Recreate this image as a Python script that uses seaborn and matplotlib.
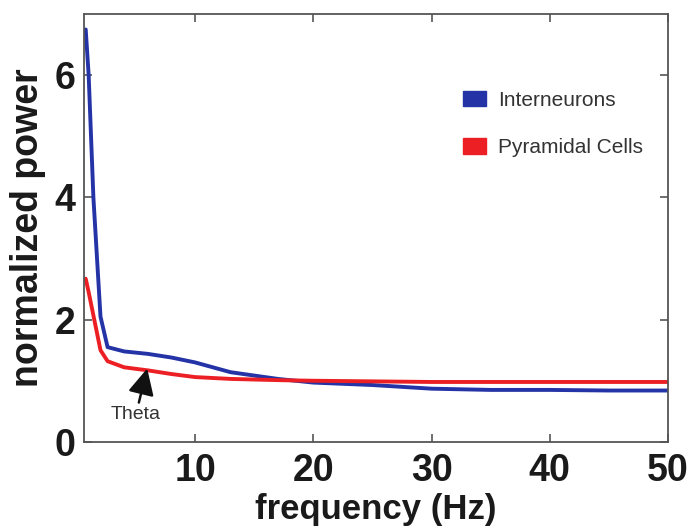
import seaborn as sns
import matplotlib.pyplot as plt
import pandas as pd
from matplotlib.patches import Patch

# frequency axis (Hz) and normalized power
freq = [0.75, 1.0, 1.4, 2.0, 2.6, 4, 6, 8, 10, 13, 17, 20, 25, 30, 35, 40, 45, 50]
interneurons = [6.75, 6.0, 4.0, 2.05, 1.55, 1.48, 1.44, 1.38, 1.30, 1.14, 1.03, 0.97,
                0.93, 0.87, 0.85, 0.85, 0.84, 0.84]
pyramidal = [2.67, 2.45, 2.07, 1.5, 1.32, 1.22, 1.17, 1.11, 1.06, 1.03, 1.01, 1.0,
             0.99, 0.98, 0.98, 0.98, 0.98, 0.98]

labels = ["Interneurons", "Pyramidal Cells"]
colors = ["#2433a6", "#ec2024"]

df = pd.DataFrame({
    "freq": freq * 2,
    "power": interneurons + pyramidal,
    "cell": [labels[0]] * len(freq) + [labels[1]] * len(freq),
})

sns.set_theme(style="white")
plt.rcParams['font.family'] = ['Liberation Sans', 'DejaVu Sans']

fig = plt.figure(figsize=(6.88, 5.26), dpi=100)
ax = fig.add_axes([0.122, 0.16, 0.849, 0.813])

sns.lineplot(data=df, x="freq", y="power", hue="cell", palette=colors,
             linewidth=2.8, ax=ax, legend=False)

ax.set_xlim(0.6, 50)
ax.set_ylim(0, 7)
ax.set_xticks([10, 20, 30, 40, 50])
ax.set_yticks([0, 2, 4, 6])

ax.tick_params(direction="in", length=6, width=1.2, color="#555555",
               top=True, right=True, bottom=True, left=True,
               labelsize=27, labelcolor="#1a1a1a")
ax.tick_params(axis="x", pad=8)
ax.tick_params(axis="y", pad=6)
for lab in ax.get_xticklabels() + ax.get_yticklabels():
    lab.set_fontweight("bold")

for sp in ax.spines.values():
    sp.set_color("#555555")
    sp.set_linewidth(1.3)

ax.set_xlabel("frequency (Hz)", fontsize=25, fontweight="bold", color="#1a1a1a", labelpad=3)
ax.set_ylabel("normalized power", fontsize=27, fontweight="bold", color="#1a1a1a", labelpad=6)

# theta annotation
ax.annotate("Theta", xy=(5.95, 1.2), xytext=(5.0, 0.45),
            fontsize=14, color="#333333", ha="center", va="center",
            arrowprops=dict(arrowstyle="-|>,head_length=0.8,head_width=0.4",
                            color="#111111", lw=1.8,
                            mutation_scale=20, shrinkA=0, shrinkB=0))

handles = [Patch(facecolor=c, edgecolor=c) for c in colors]
ax.legend(handles, labels, loc="upper left", bbox_to_anchor=(0.617, 0.864),
          frameon=False, fontsize=15, handlelength=1.1, handleheight=0.75,
          labelspacing=1.35, handletextpad=0.6, labelcolor="#333333")

plt.savefig("out.png", dpi=100)
plt.close()
